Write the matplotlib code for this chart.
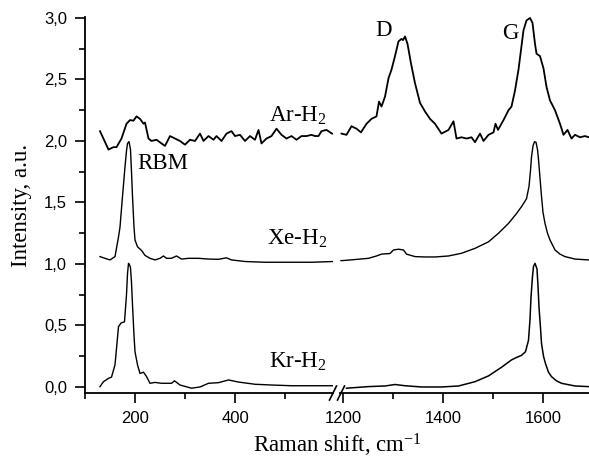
import matplotlib
matplotlib.use("Agg")
import matplotlib.pyplot as plt
from matplotlib.lines import Line2D
from matplotlib.ticker import MultipleLocator

plt.rcParams.update({"font.family": "Liberation Sans", "mathtext.fontset": "custom",
                     "mathtext.rm": "Liberation Serif", "mathtext.it": "Liberation Serif:italic"})
SERIF = "Liberation Serif"

# --- spectra, low-frequency (RBM) window ---
ar_lo_x = [130, 147, 157, 163, 173, 183, 190, 197, 203, 210, 217, 220, 227, 233, 243, 253, 260, 270, 280,
           290, 300, 310, 320, 330, 337, 347, 357, 363, 373, 383, 393, 400, 410, 420, 430, 440, 447, 453,
           463, 473, 483, 493, 503, 513, 523, 533, 543, 553, 560, 567, 573, 583, 594]
ar_lo_y = [2.08, 1.93, 1.95, 1.95, 2.02, 2.14, 2.17, 2.165, 2.20, 2.18, 2.14, 2.15, 2.02, 2.00, 2.01, 1.98,
           1.96, 2.04, 2.02, 2.00, 1.97, 2.01, 2.00, 2.06, 2.00, 2.04, 2.01, 2.04, 2.00, 2.06, 2.08, 2.04,
           2.05, 2.00, 2.04, 2.01, 2.09, 1.98, 2.02, 2.04, 2.10, 2.05, 2.02, 2.04, 2.01, 2.04, 2.04, 2.05,
           2.04, 2.04, 2.08, 2.09, 2.06]
xe_lo_x = [130, 140, 150, 160, 167, 170, 175, 180, 183, 185, 188, 191, 193, 195, 198, 200, 205, 213, 220,
           230, 240, 250, 257, 263, 273, 283, 293, 307, 327, 347, 367, 383, 393, 420, 460, 500, 553, 596]
xe_lo_y = [1.06, 1.046, 1.033, 1.06, 1.22, 1.30, 1.55, 1.79, 1.92, 1.98, 1.995, 1.93, 1.75, 1.55, 1.30,
           1.195, 1.14, 1.11, 1.07, 1.046, 1.033, 1.046, 1.065, 1.046, 1.046, 1.065, 1.04, 1.046, 1.046,
           1.04, 1.038, 1.05, 1.033, 1.02, 1.014, 1.014, 1.014, 1.02]
kr_lo_x = [130, 137, 147, 153, 160, 167, 172, 179, 183, 185, 187, 189, 191, 193, 195, 198, 200, 205, 210,
           217, 223, 230, 240, 253, 273, 279, 290, 313, 330, 347, 367, 387, 407, 440, 473, 513, 567, 596]
kr_lo_y = [0.003, 0.043, 0.07, 0.08, 0.18, 0.49, 0.52, 0.53, 0.75, 0.92, 1.005, 0.995, 0.97, 0.85, 0.667,
           0.42, 0.287, 0.18, 0.11, 0.12, 0.085, 0.03, 0.037, 0.03, 0.03, 0.05, 0.016, -0.01, 0.0, 0.03,
           0.035, 0.057, 0.04, 0.022, 0.016, 0.01, 0.01, 0.01]

# --- spectra, D/G window ---
ar_hi_x = [1197, 1207, 1217, 1227, 1236, 1247, 1257, 1267, 1272, 1277, 1284, 1291, 1297, 1304, 1311, 1317,
           1320, 1324, 1329, 1336, 1344, 1354, 1364, 1374, 1384, 1397, 1411, 1421, 1427, 1437, 1447, 1457,
           1464, 1474, 1481, 1491, 1501, 1505, 1510, 1521, 1531, 1537, 1544, 1551, 1556, 1561, 1567, 1574,
           1579, 1584, 1587, 1594, 1601, 1607, 1614, 1624, 1634, 1641, 1649, 1657, 1664, 1674, 1684, 1692]
ar_hi_y = [2.06, 2.05, 2.12, 2.10, 2.07, 2.14, 2.18, 2.20, 2.32, 2.28, 2.36, 2.51, 2.58, 2.69, 2.81, 2.83,
           2.82, 2.85, 2.79, 2.63, 2.47, 2.31, 2.24, 2.18, 2.14, 2.06, 2.09, 2.16, 2.02, 2.03, 2.02, 2.03,
           1.99, 2.06, 2.00, 2.05, 2.07, 2.14, 2.09, 2.17, 2.25, 2.28, 2.41, 2.58, 2.74, 2.90, 2.98, 3.00,
           2.96, 2.79, 2.71, 2.69, 2.59, 2.44, 2.33, 2.25, 2.14, 2.05, 2.09, 2.02, 2.05, 2.03, 2.04, 2.03]
xe_hi_x = [1196, 1207, 1251, 1267, 1277, 1294, 1301, 1311, 1321, 1327, 1344, 1364, 1384, 1411, 1437, 1464,
           1491, 1511, 1531, 1547, 1557, 1567, 1572, 1575, 1577, 1580, 1583, 1586, 1589, 1591, 1594, 1597,
           1600, 1604, 1609, 1614, 1624, 1634, 1644, 1664, 1691]
xe_hi_y = [1.027, 1.03, 1.046, 1.065, 1.08, 1.085, 1.114, 1.12, 1.114, 1.08, 1.06, 1.057, 1.057, 1.065,
           1.087, 1.127, 1.18, 1.25, 1.33, 1.41, 1.466, 1.53, 1.63, 1.76, 1.87, 1.96, 1.994, 1.99, 1.93,
           1.85, 1.70, 1.55, 1.42, 1.33, 1.25, 1.195, 1.114, 1.08, 1.06, 1.04, 1.033]
kr_hi_x = [1207, 1251, 1284, 1304, 1324, 1357, 1397, 1431, 1464, 1491, 1517, 1537, 1547, 1557, 1565, 1571,
           1574, 1576, 1579, 1581, 1584, 1588, 1590, 1592, 1595, 1597, 1601, 1605, 1611, 1617, 1627, 1637,
           1664, 1691]
kr_hi_y = [-0.01, 0.003, 0.008, 0.02, 0.01, 0.0, 0.0, 0.008, 0.043, 0.09, 0.16, 0.22, 0.24, 0.257, 0.287,
           0.38, 0.55, 0.73, 0.90, 0.98, 1.005, 0.96, 0.82, 0.65, 0.48, 0.355, 0.25, 0.19, 0.12, 0.084,
           0.05, 0.03, 0.008, 0.003]

y_ticks = [0.0, 0.5, 1.0, 1.5, 2.0, 2.5, 3.0]
y_ticklabels = ["0,0", "0,5", "1,0", "1,5", "2,0", "2,5", "3,0"]

W, H = 589, 461
fig = plt.figure(figsize=(W / 100, H / 100), dpi=100)
bot, top = 1 - 393 / H, (393 - 17) / H
ax1 = fig.add_axes([85 / W, bot, (333 - 85) / W, top])
ax2 = fig.add_axes([340 / W, bot, (589 - 340) / W, top], sharey=ax1)

for ax in (ax1, ax2):
    for s in ("top", "right"):
        ax.spines[s].set_visible(False)
    for s in ("left", "bottom"):
        ax.spines[s].set_linewidth(1.3)
    ax.tick_params(which="major", direction="out", length=7, width=1.2, labelsize=12, pad=6)
    ax.tick_params(which="minor", direction="out", length=4.5, width=1.2)
    ax.xaxis.set_major_locator(MultipleLocator(200))
    ax.xaxis.set_minor_locator(MultipleLocator(100))
ax2.spines["left"].set_visible(False)
ax2.tick_params(axis="y", which="both", left=False, labelleft=False)

ax1.plot(ar_lo_x, ar_lo_y, color="k", lw=1.3)
ax1.plot(xe_lo_x, xe_lo_y, color="k", lw=1.0)
ax1.plot(kr_lo_x, kr_lo_y, color="k", lw=1.0)
ax2.plot(ar_hi_x, ar_hi_y, color="k", lw=1.3)
ax2.plot(xe_hi_x, xe_hi_y, color="k", lw=1.0)
ax2.plot(kr_hi_x, kr_hi_y, color="k", lw=1.1)

ax1.set_xlim(100, 596)
ax2.set_xlim(1194, 1692)
ax1.set_ylim(-0.049, 3.008)
ax1.set_yticks(y_ticks)
ax1.set_yticklabels(y_ticklabels)
ax1.yaxis.set_minor_locator(MultipleLocator(0.25))

fs = 16.5
ax1.text(255, 1.82, "RBM", family=SERIF, fontsize=fs, ha="center", va="center")
ax1.text(526, 2.157, "Ar-H$_2$", family=SERIF, fontsize=fs, ha="center", va="baseline")
ax1.text(524, 1.155, "Xe-H$_2$", family=SERIF, fontsize=fs, ha="center", va="baseline")
ax1.text(526, 0.157, "Kr-H$_2$", family=SERIF, fontsize=fs, ha="center", va="baseline")
ax2.text(1282, 2.90, "D", family=SERIF, fontsize=fs, ha="center", va="center")
ax2.text(1534, 2.87, "G", family=SERIF, fontsize=fs, ha="center", va="center")

fig.text(337.5 / W, 1 - 452 / H, "Raman shift, cm$^{-1}$", family=SERIF, fontsize=fs,
         ha="center", va="baseline")
fig.text(22 / W, 1 - 205 / H, "Intensity, a.u.", family=SERIF, fontsize=fs, rotation=90,
         ha="center", va="center")

# axis break marks
for x0 in (329.5, 337.5):
    fig.add_artist(Line2D([x0 / W, (x0 + 7) / W], [1 - 400 / H, 1 - 386 / H],
                          transform=fig.transFigure, color="k", lw=1.2))

fig.savefig("out.png", dpi=100)
